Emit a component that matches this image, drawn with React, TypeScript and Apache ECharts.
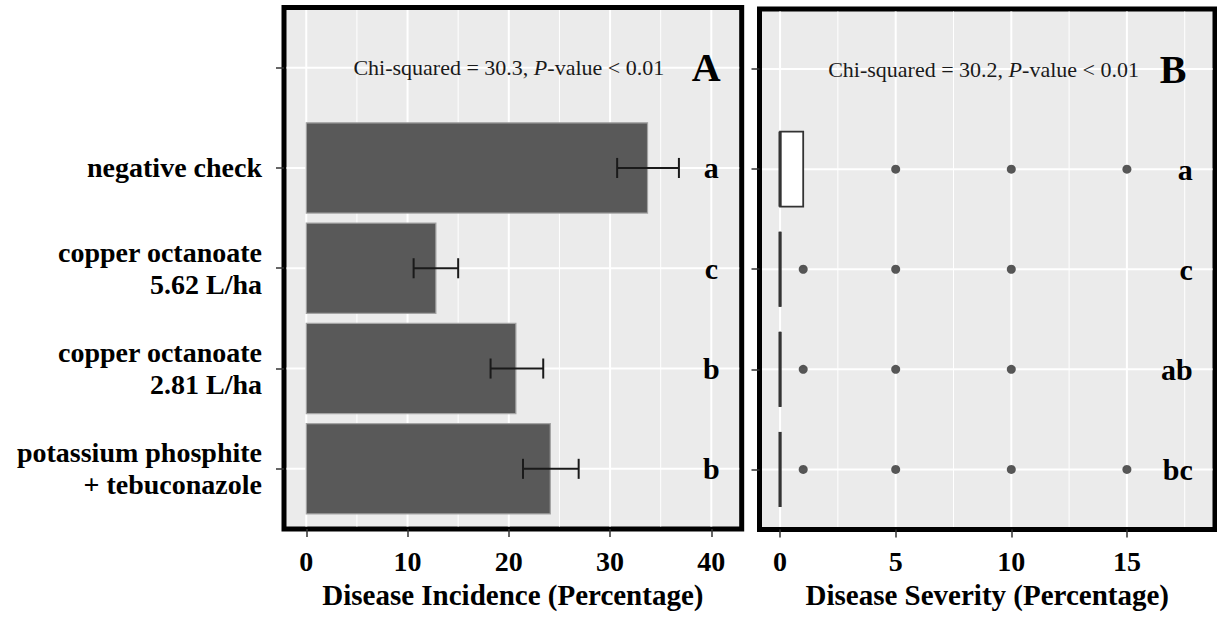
import React, { useEffect, useRef } from 'react';
import * as echarts from 'echarts';

// ---- data ----
const categoryLabels = [
  'potassium phosphite\n+ tebuconazole',
  'copper octanoate\n2.81 L/ha',
  'copper octanoate\n5.62 L/ha',
  'negative check',
  '',
];
const categoryPositions = [1, 2, 3, 4, 5];
const treatmentPositions = [1, 2, 3, 4];

const incidenceMean = [24.1, 20.7, 12.8, 33.7];
const incidenceLower = [21.4, 18.2, 10.6, 30.7];
const incidenceUpper = [26.9, 23.4, 15.0, 36.8];
const incidenceLetters = ['b', 'b', 'c', 'a'];

const severityQ1 = [0, 0, 0, 0];
const severityMedian = [0, 0, 0, 0];
const severityQ3 = [0, 0, 0, 1];
const severityOutliers = [
  [1, 5, 10, 15],
  [1, 5, 10],
  [1, 5, 10],
  [5, 10, 15],
];
const severityLetters = ['bc', 'ab', 'c', 'a'];

const incidenceTicks = [0, 10, 20, 30, 40];
const incidenceMinor = [5, 15, 25, 35];
const severityTicks = [0, 5, 10, 15];
const severityMinor = [2.5, 7.5, 12.5, 17.5];

const chiA = ['Chi-squared = 30.3, ', 'P', '-value < 0.01'];
const chiB = ['Chi-squared = 30.2, ', 'P', '-value < 0.01'];
const panelTags = ['A', 'B'];

const SERIF = '"Liberation Serif", "Times New Roman", serif';
const BORDER = 5;

function gridLineData(major: number[], minor: number[], rows: number[]) {
  return [
    ...minor.map((v) => [v, 0, 0]),
    ...major.map((v) => [v, 0, 1]),
    ...rows.map((v) => [v, 1, 1]),
  ];
}

const renderGridLines = (params: any, api: any) => {
  const cs = params.coordSys;
  const v = api.value(0);
  const orient = api.value(1);
  const major = api.value(2);
  const w = major ? 2 : 1;
  const inset = BORDER / 2;
  if (orient === 0) {
    const x = api.coord([v, 1])[0];
    return {
      type: 'line',
      silent: true,
      shape: { x1: x, y1: cs.y + inset, x2: x, y2: cs.y + cs.height - inset },
      style: { stroke: '#ffffff', lineWidth: w },
    };
  }
  const y = api.coord([0, v])[1];
  return {
    type: 'line',
    silent: true,
    shape: { x1: cs.x + inset, y1: y, x2: cs.x + cs.width - inset, y2: y },
    style: { stroke: '#ffffff', lineWidth: w },
  };
};

function textSeries(
  xAxisIndex: number,
  data: number[][],
  texts: string[],
  style: any,
  z = 5
) {
  return {
    type: 'custom',
    xAxisIndex,
    yAxisIndex: xAxisIndex,
    z,
    silent: true,
    data,
    renderItem: (params: any, api: any) => {
      const p = api.coord([api.value(0), api.value(1)]);
      return {
        type: 'text',
        x: p[0],
        y: p[1],
        style: { text: texts[params.dataIndex], ...style },
      };
    },
  };
}

function chiText(parts: string[]) {
  return `{n|${parts[0]}}{i|${parts[1]}}{n|${parts[2]}}`;
}

const chiStyle = {
  align: 'center',
  verticalAlign: 'middle',
  fontFamily: SERIF,
  fontSize: 22,
  fill: '#1a1a1a',
  rich: {
    n: { fontFamily: SERIF, fontSize: 22, fill: '#1a1a1a' },
    i: { fontFamily: SERIF, fontSize: 22, fontStyle: 'italic', fill: '#1a1a1a' },
  },
};

const tagStyle = {
  align: 'center',
  verticalAlign: 'middle',
  fontFamily: SERIF,
  fontSize: 40,
  fontWeight: 'bold',
  fill: '#000',
};

const letterStyle = {
  verticalAlign: 'middle',
  fontFamily: SERIF,
  fontSize: 30,
  fontWeight: 'bold',
  fill: '#000',
};

const axisText = {
  fontFamily: SERIF,
  fontSize: 28,
  fontWeight: 'bold',
  color: '#000',
};

function makeXAxis(idx: number, min: number, max: number, ticks: number[], name: string) {
  return {
    gridIndex: idx,
    type: 'value',
    position: 'bottom',
    min,
    max,
    splitLine: { show: false },
    axisLine: { show: false, onZero: false },
    axisTick: {
      show: true,
      inside: false,
      length: 8,
      customValues: ticks,
      lineStyle: { color: '#333', width: 1.5 },
    },
    axisLabel: { customValues: ticks, margin: 18, ...axisText },
    name,
    nameLocation: 'middle',
    nameGap: 51,
    nameTextStyle: { ...axisText, fontSize: 29 },
  };
}

function makeYAxis(idx: number, showLabels: boolean) {
  return {
    gridIndex: idx,
    type: 'value',
    position: 'left',
    min: 0.4,
    max: 5.6,
    splitLine: { show: false },
    axisLine: { show: false, onZero: false },
    axisTick: {
      show: true,
      inside: false,
      length: 8,
      customValues: categoryPositions,
      lineStyle: { color: '#333', width: 1.5 },
    },
    axisLabel: {
      show: showLabels,
      customValues: categoryPositions,
      formatter: (v: number) => categoryLabels[Math.round(v) - 1] ?? '',
      margin: 22,
      align: 'right',
      lineHeight: 32,
      ...axisText,
    },
  };
}

export default function App() {
  const ref = useRef<HTMLDivElement>(null);

  useEffect(() => {
    if (!ref.current) return;
    const chart = echarts.init(ref.current, undefined, { renderer: 'svg' });

    const option: any = {
      animation: false,
      backgroundColor: '#ffffff',
      grid: [
        {
          left: 284,
          top: 7.5,
          width: 457.7,
          height: 521.5,
          show: true,
          backgroundColor: '#EBEBEB',
          borderColor: '#000',
          borderWidth: BORDER,
        },
        {
          left: 759.5,
          top: 9,
          width: 455.5,
          height: 520.5,
          show: true,
          backgroundColor: '#EBEBEB',
          borderColor: '#000',
          borderWidth: BORDER,
        },
      ],
      xAxis: [
        makeXAxis(0, -2.2, 43, incidenceTicks, 'Disease Incidence (Percentage)'),
        makeXAxis(1, -0.89, 18.81, severityTicks, 'Disease Severity (Percentage)'),
      ],
      yAxis: [makeYAxis(0, true), makeYAxis(1, false)],
      series: [
        // grid lines panel A
        {
          type: 'custom',
          xAxisIndex: 0,
          yAxisIndex: 0,
          z: 1,
          silent: true,
          data: gridLineData(incidenceTicks, incidenceMinor, categoryPositions),
          renderItem: renderGridLines,
        },
        // bars
        {
          type: 'custom',
          xAxisIndex: 0,
          yAxisIndex: 0,
          z: 2,
          data: incidenceMean.map((m, i) => [m, treatmentPositions[i]]),
          renderItem: (params: any, api: any) => {
            const y = api.value(1);
            const s = api.coord([0, y]);
            const e = api.coord([api.value(0), y]);
            const h = api.size([0, 0.9])[1];
            return {
              type: 'rect',
              shape: { x: s[0], y: s[1] - h / 2, width: e[0] - s[0], height: h },
              style: { fill: '#595959', stroke: '#a3a3a3', lineWidth: 1.2 },
            };
          },
        },
        // error bars
        {
          type: 'custom',
          xAxisIndex: 0,
          yAxisIndex: 0,
          z: 3,
          data: incidenceLower.map((lo, i) => [lo, incidenceUpper[i], treatmentPositions[i]]),
          encode: { x: [0, 1], y: 2 },
          renderItem: (params: any, api: any) => {
            const y = api.value(2);
            const a = api.coord([api.value(0), y]);
            const b = api.coord([api.value(1), y]);
            const c = api.size([0, 0.2])[1] / 2;
            const st = { stroke: '#1a1a1a', lineWidth: 2 };
            return {
              type: 'group',
              children: [
                { type: 'line', shape: { x1: a[0], y1: a[1], x2: b[0], y2: b[1] }, style: st },
                { type: 'line', shape: { x1: a[0], y1: a[1] - c, x2: a[0], y2: a[1] + c }, style: st },
                { type: 'line', shape: { x1: b[0], y1: b[1] - c, x2: b[0], y2: b[1] + c }, style: st },
              ],
            };
          },
        },
        textSeries(
          0,
          treatmentPositions.map((p) => [40, p]),
          incidenceLetters,
          { ...letterStyle, align: 'center' }
        ),
        textSeries(0, [[20, 5]], [chiText(chiA)], chiStyle),
        textSeries(0, [[39.5, 5]], [panelTags[0]], tagStyle),

        // grid lines panel B
        {
          type: 'custom',
          xAxisIndex: 1,
          yAxisIndex: 1,
          z: 1,
          silent: true,
          data: gridLineData(severityTicks, severityMinor, categoryPositions),
          renderItem: renderGridLines,
        },
        // boxes
        {
          type: 'custom',
          xAxisIndex: 1,
          yAxisIndex: 1,
          z: 2,
          data: severityQ1.map((q1, i) => [q1, severityMedian[i], severityQ3[i], treatmentPositions[i]]),
          encode: { x: [0, 1, 2], y: 3 },
          renderItem: (params: any, api: any) => {
            const y = api.value(3);
            const a = api.coord([api.value(0), y]);
            const m = api.coord([api.value(1), y]);
            const b = api.coord([api.value(2), y]);
            const h = api.size([0, 0.75])[1];
            return {
              type: 'group',
              children: [
                {
                  type: 'rect',
                  shape: { x: a[0], y: a[1] - h / 2, width: b[0] - a[0], height: h },
                  style: { fill: '#ffffff', stroke: '#333333', lineWidth: 1.8 },
                },
                {
                  type: 'line',
                  shape: { x1: m[0], y1: m[1] - h / 2, x2: m[0], y2: m[1] + h / 2 },
                  style: { stroke: '#333333', lineWidth: 3.2 },
                },
              ],
            };
          },
        },
        // outliers
        {
          type: 'scatter',
          xAxisIndex: 1,
          yAxisIndex: 1,
          z: 3,
          symbol: 'circle',
          symbolSize: 9,
          itemStyle: { color: '#2e2e2e' },
          data: severityOutliers.flatMap((vals, i) => vals.map((v) => [v, treatmentPositions[i]])),
        },
        textSeries(
          1,
          treatmentPositions.map((p) => [17.85, p]),
          severityLetters,
          { ...letterStyle, align: 'right' }
        ),
        textSeries(1, [[8.8, 5]], [chiText(chiB)], chiStyle),
        textSeries(1, [[17.0, 5]], [panelTags[1]], tagStyle),
      ],
    };

    chart.setOption(option);
    return () => chart.dispose();
  }, []);

  return (
    <div
      ref={ref}
      style={{ position: 'fixed', left: 0, top: 0, width: 1217, height: 617, background: '#fff' }}
    />
  );
}
